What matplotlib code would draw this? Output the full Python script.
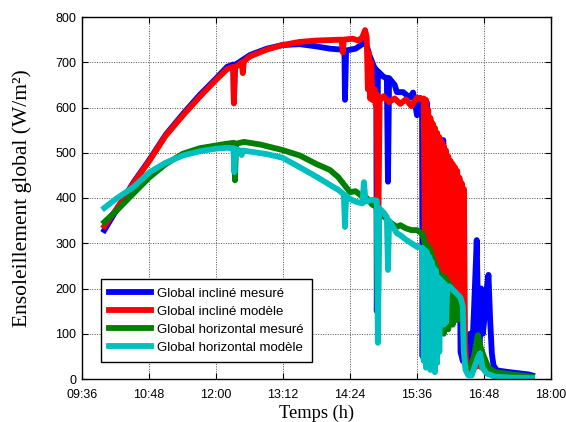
import matplotlib
matplotlib.use("Agg")
import matplotlib.pyplot as plt

# ---------------- data (time in decimal hours) ----------------
x_ticks = [9.6, 10.8, 12.0, 13.2, 14.4, 15.6, 16.8, 18.0]
x_tick_labels = ["09:36", "10:48", "12:00", "13:12", "14:24", "15:36", "16:48", "18:00"]
y_ticks = [0, 100, 200, 300, 400, 500, 600, 700, 800]

labels = ["Global incliné mesuré", "Global incliné modèle",
          "Global horizontal mesuré", "Global horizontal modèle"]

# Global incliné mesuré (blue)
t_blue = [10.00, 10.22, 10.52, 10.81, 11.10, 11.41, 11.71, 12.00, 12.20, 12.31, 12.32, 12.34,
          12.61, 12.91, 13.19, 13.50, 13.80, 14.04, 14.25, 14.30, 14.31, 14.33, 14.50, 14.62,
          14.68, 14.75, 14.83, 14.87, 14.88, 14.90, 15.00, 15.06, 15.08, 15.10, 15.20, 15.24,
          15.35, 15.47, 15.53, 15.60, 15.66, 15.69, 15.70,
          15.72, 15.74, 15.78, 15.80, 15.84, 15.86, 15.90, 15.92, 15.96, 15.98, 16.04, 16.06,
          16.07, 16.09, 16.12, 16.14, 16.20, 16.22, 16.28, 16.30, 16.36, 16.38, 16.42, 16.46,
          16.50, 16.55, 16.58, 16.62, 16.67, 16.70, 16.72, 16.75, 16.78, 16.82, 16.85, 16.88,
          16.91, 16.94, 16.97, 17.03, 17.20, 17.40, 17.60, 17.66]
v_blue = [329, 374, 434, 485, 540, 586, 628, 664, 690, 695, 617, 694,
          716, 730, 738, 740, 735, 730, 728, 726, 617, 726, 730, 740,
          745, 715, 690, 683, 150, 680, 668, 665, 436, 665, 650, 634,
          634, 622, 633, 583, 621, 618, 50,
          600, 280, 610, 260, 570, 240, 550, 230, 540, 220, 525, 210,
          528, 205, 500, 195, 480, 185, 465, 180, 440, 60, 40, 40,
          45, 100, 42, 150, 307, 90, 60, 200, 100, 150, 200, 230,
          130, 57, 30, 19, 16, 13, 10, 8]

# Global incliné modèle (red)
t_red = [10.00, 10.22, 10.52, 10.81, 11.10, 11.41, 11.71, 12.00, 12.20, 12.31, 12.32, 12.34,
         12.46, 12.48, 12.50, 12.61, 12.91, 13.19, 13.50, 13.80, 14.04, 14.25, 14.27, 14.29,
         14.45, 14.55, 14.62, 14.67, 14.70, 14.72, 14.74, 14.76, 14.78, 14.80, 14.84, 14.86,
         14.88, 14.90, 14.93, 15.00, 15.10, 15.20, 15.30, 15.40, 15.50, 15.60, 15.70,
         15.72, 15.74, 15.76, 15.78, 15.80, 15.82, 15.84, 15.86, 15.88, 15.90, 15.92, 15.94,
         15.96, 15.98, 16.00, 16.02, 16.04, 16.06, 16.08, 16.10, 16.12, 16.14, 16.16, 16.18,
         16.20, 16.22, 16.24, 16.26, 16.28, 16.30, 16.32, 16.34, 16.36, 16.38, 16.40, 16.42,
         16.44, 16.46, 16.48, 16.55, 16.70, 16.90, 17.20, 17.60]
v_red = [338, 376, 432, 483, 538, 583, 624, 661, 685, 690, 609, 688,
         700, 676, 702, 713, 728, 738, 745, 748, 749, 750, 722, 750,
         752, 748, 755, 771, 755, 640, 720, 620, 700, 617, 640, 605,
         630, 250, 615, 625, 612, 620, 608, 618, 603, 622, 618,
         620, 280, 617, 270, 595, 260, 577, 240, 565, 230, 555, 220,
         544, 215, 535, 210, 525, 205, 515, 200, 505, 195, 492, 190,
         482, 185, 475, 185, 468, 180, 460, 175, 445, 170, 433, 160,
         420, 86, 40, 20, 30, 15, 5, 2]

# Global horizontal mesuré (green)
t_green = [10.00, 10.22, 10.52, 10.81, 11.10, 11.41, 11.71, 12.00, 12.20, 12.32, 12.34, 12.36,
           12.50, 12.80, 13.19, 13.50, 13.80, 14.04, 14.19, 14.40, 14.50, 14.60, 14.70, 14.80,
           14.88, 14.90, 14.92, 15.00, 15.10, 15.24, 15.30, 15.40, 15.50, 15.60, 15.68,
           15.70, 15.74, 15.78, 15.80, 15.82, 15.86, 15.90, 15.94, 15.98, 16.00, 16.02, 16.05,
           16.08, 16.10, 16.14, 16.16, 16.18, 16.22, 16.24, 16.26, 16.30, 16.32, 16.34, 16.38,
           16.42, 16.44, 16.47, 16.55, 16.62, 16.69, 16.74, 16.80, 16.88, 17.00, 17.30, 17.66]
v_green = [347, 372, 410, 446, 475, 498, 510, 516, 520, 522, 439, 520,
           524, 518, 506, 494, 475, 462, 446, 413, 415, 405, 400, 385,
           380, 126, 370, 360, 348, 336, 340, 333, 329, 329, 322,
           320, 300, 295, 150, 290, 275, 260, 250, 235, 120, 230, 220,
           100, 225, 215, 110, 210, 200, 120, 195, 190, 130, 180, 175,
           150, 60, 27, 25, 50, 97, 70, 49, 25, 15, 10, 5]

# Global horizontal modèle (cyan)
t_cyan = [10.00, 10.22, 10.52, 10.81, 11.10, 11.41, 11.70, 12.00, 12.20, 12.31, 12.33, 12.35,
          12.43, 12.46, 12.48, 12.91, 13.19, 13.50, 13.80, 14.04, 14.19, 14.29, 14.31, 14.33,
          14.40, 14.50, 14.62, 14.65, 14.68, 14.80, 14.88, 14.90, 14.92, 15.00, 15.06, 15.08,
          15.10, 15.24, 15.30, 15.40, 15.50, 15.60, 15.68,
          15.70, 15.72, 15.74, 15.76, 15.78, 15.80, 15.82, 15.84, 15.86, 15.88, 15.90, 15.92,
          15.94, 15.96, 15.98, 16.00, 16.02, 16.04, 16.06, 16.08, 16.10, 16.12, 16.14, 16.18,
          16.22, 16.26, 16.30, 16.34, 16.38, 16.42, 16.44, 16.47, 16.52, 16.58, 16.64, 16.70,
          16.73, 16.77, 16.85, 17.00, 17.30, 17.66]
v_cyan = [378, 399, 424, 457, 478, 494, 503, 509, 511, 510, 457, 508,
          505, 495, 505, 497, 489, 468, 447, 429, 418, 408, 336, 405,
          398, 392, 388, 435, 392, 396, 394, 80, 378, 368, 358, 241,
          350, 322, 318, 308, 300, 292, 290,
          290, 40, 285, 25, 280, 50, 270, 20, 260, 30, 245, 15,
          240, 35, 225, 60, 220, 130, 215, 120, 210, 125, 200, 205,
          200, 195, 190, 185, 180, 160, 60, 20, 8, 8, 30, 50,
          57, 25, 12, 5, 3, 2]

series = [(t_blue, v_blue, "#0000ff"), (t_red, v_red, "#ff0000"),
          (t_green, v_green, "#008000"), (t_cyan, v_cyan, "#00bfbf")]

# ---------------- figure ----------------
plt.rcParams['font.family'] = ['Liberation Sans', 'DejaVu Sans']
fig = plt.figure(figsize=(5.66, 4.22), dpi=100)
ax = fig.add_axes([82/566, 1-379/422, 469/566, 362/422])

for (t, v, c), lab in zip(series, labels):
    ax.plot(t, v, color=c, lw=4.2, label=lab, solid_joinstyle='round')

ax.set_xlim(9.6, 18.0)
ax.set_ylim(0, 800)
ax.set_xticks(x_ticks)
ax.set_xticklabels(x_tick_labels)
ax.set_yticks(y_ticks)
ax.tick_params(direction='in', top=True, right=True, length=4, width=0.8,
               labelsize=9)
ax.tick_params(axis='x', pad=7)
ax.tick_params(axis='y', pad=4)
ax.grid(True, color='#505050', linestyle=(0, (1, 1.5)), linewidth=0.7)
for s in ax.spines.values():
    s.set_linewidth(1.0)

serif = ['Liberation Serif', 'DejaVu Serif']
ax.set_xlabel("Temps (h)", family=serif, fontsize=13.2, labelpad=3)
ax.set_ylabel("Ensoleillement global (W/m²)", family=serif, fontsize=15.5, labelpad=17)

leg = ax.legend(loc='lower left', bbox_to_anchor=(0.0405, 0.047), borderaxespad=0,
                fontsize=9.5, handlelength=3.2, labelspacing=0.45, fancybox=False,
                edgecolor='black', framealpha=1, borderpad=0.6, handletextpad=0.45)
leg.get_frame().set_linewidth(1.0)

fig.savefig("out.png", dpi=100)
